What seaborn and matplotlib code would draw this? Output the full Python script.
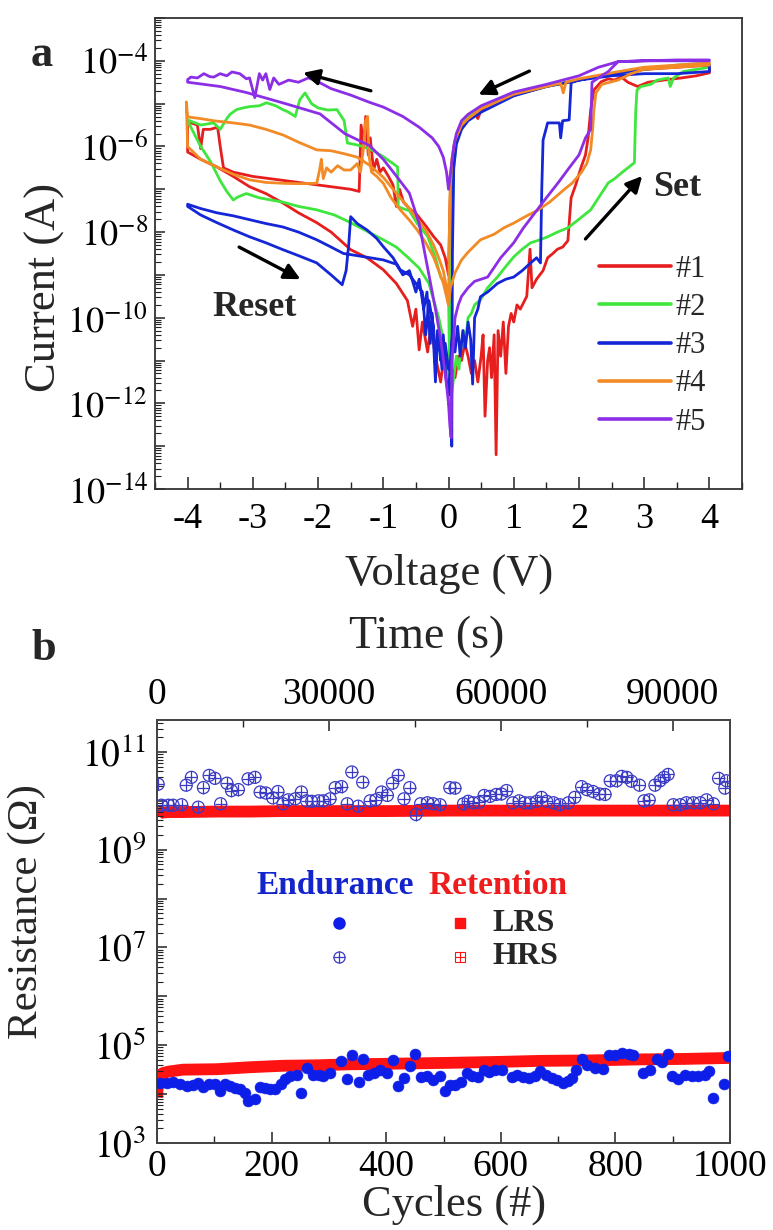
#!/usr/bin/env python3
"""I-V sweeps (a) and endurance/retention (b) of a resistive switching cell."""

import matplotlib
matplotlib.use("Agg")
import matplotlib.pyplot as plt
import matplotlib.ticker as mticker
import numpy as np
import pandas as pd
import seaborn as sns

# ---------------------------------------------------------------- panel a
# each sweep: (voltage V, log10 current A) in sweep order
# HRS 0 -> +4 (set), LRS +4 -> 0, LRS 0 -> -4, reset branch -4 -> 0
sweep_1 = [
    (0.0, -11.8), (0.05, -11.2), (0.1, -11.4), (0.15, -10.9), (0.2, -11.0), (0.25, -10.6),
    (0.3, -10.9), (0.35, -11.3), (0.4, -11.0), (0.45, -11.5), (0.5, -10.9), (0.53, -10.4),
    (0.56, -12.3), (0.6, -11.0), (0.63, -10.7), (0.66, -11.4), (0.7, -10.4), (0.73, -13.2),
    (0.76, -10.3), (0.8, -10.9), (0.84, -10.1), (0.88, -11.3), (0.92, -10.2), (0.96, -9.9),
    (1.0, -10.1), (1.05, -9.7), (1.1, -9.8), (1.2, -9.5), (1.25, -8.4), (1.28, -9.3),
    (1.35, -9.1), (1.45, -8.9), (1.52, -8.6), (1.6, -8.5), (1.67, -8.4), (1.75, -8.35),
    (1.83, -8.2), (1.88, -7.2), (1.95, -6.9), (2.03, -6.5), (2.1, -6.2), (2.14, -5.8),
    (2.18, -5.15), (2.23, -4.68), (2.34, -4.49), (2.45, -4.42), (2.54, -4.45), (2.65, -4.38),
    (2.75, -4.5), (2.9, -4.6), (3.06, -4.5), (3.3, -4.45), (3.57, -4.4), (3.8, -4.35),
    (4.0, -4.28),
    (4.0, -4.1), (3.5, -4.15), (3.0, -4.2), (2.5, -4.3), (2.0, -4.45), (1.5, -4.6),
    (1.0, -4.8), (0.7, -4.95), (0.5, -5.15), (0.45, -5.35), (0.4, -5.2), (0.3, -5.35),
    (0.2, -5.55), (0.1, -5.9), (0.05, -6.4), (0.02, -7.5), (0.0, -9.0),
    (-0.05, -8.6), (-0.12, -8.3), (-0.23, -8.1), (-0.35, -7.85), (-0.48, -7.6), (-0.6, -7.45),
    (-0.69, -7.3), (-0.75, -7.0), (-0.8, -7.4), (-0.85, -6.9), (-0.92, -6.7), (-1.0, -6.5),
    (-1.05, -6.6), (-1.1, -6.3), (-1.15, -6.55), (-1.2, -5.8), (-1.23, -6.2), (-1.27, -5.3),
    (-1.3, -6.0), (-1.34, -5.5), (-1.37, -7.05), (-1.5, -7.0), (-2.0, -6.9), (-2.5, -6.8),
    (-3.0, -6.7), (-3.3, -6.6), (-3.45, -6.5), (-3.5, -6.0), (-3.54, -5.55), (-3.65, -5.6),
    (-3.76, -5.6), (-3.8, -6.05), (-3.85, -5.5), (-3.95, -5.45), (-4.0, -5.45),
    (-4.0, -6.13), (-3.8, -6.3), (-3.55, -6.48), (-3.3, -6.7), (-3.05, -6.94), (-2.8, -7.1),
    (-2.54, -7.32), (-2.3, -7.55), (-2.02, -7.78), (-1.8, -8.0), (-1.5, -8.41), (-1.25, -8.6),
    (-1.0, -8.88), (-0.8, -9.2), (-0.63, -9.6), (-0.55, -10.2), (-0.5, -9.8), (-0.45, -10.75),
    (-0.4, -10.1), (-0.32, -10.8), (-0.27, -10.2), (-0.2, -10.9), (-0.12, -11.5), (-0.07, -10.9),
    (-0.02, -11.6), (0.0, -11.8),
]
sweep_2 = [
    (0.0, -11.6), (0.03, -12.0), (0.08, -11.4), (0.12, -10.9), (0.16, -11.2), (0.19, -10.7),
    (0.23, -10.3), (0.26, -10.6), (0.3, -10.0), (0.35, -9.9), (0.4, -9.7), (0.49, -9.58),
    (0.6, -9.3), (0.75, -9.05), (0.88, -8.8), (1.0, -8.58), (1.13, -8.4), (1.26, -8.25),
    (1.4, -8.18), (1.52, -8.11), (1.67, -8.0), (1.83, -7.9), (2.0, -7.7), (2.18, -7.48),
    (2.3, -7.2), (2.45, -6.85), (2.55, -6.75), (2.65, -6.62), (2.75, -6.5), (2.85, -6.38),
    (2.87, -5.2), (2.89, -4.68), (2.95, -4.6), (3.1, -4.55), (3.2, -4.45), (3.37, -4.4),
    (3.4, -4.6), (3.45, -4.4), (3.6, -4.25), (3.8, -4.2), (4.0, -4.15),
    (4.0, -4.05), (3.5, -4.1), (3.0, -4.2), (2.5, -4.3), (2.0, -4.45), (1.5, -4.6),
    (1.0, -4.8), (0.5, -5.1), (0.3, -5.3), (0.2, -5.5), (0.12, -5.9), (0.08, -6.5),
    (0.05, -8.0), (0.03, -12.5), (0.01, -10.5), (0.0, -9.4),
    (-0.05, -9.2), (-0.12, -9.05), (-0.2, -8.6), (-0.32, -8.1), (-0.4, -7.95), (-0.48, -7.8),
    (-0.6, -7.5), (-0.7, -7.45), (-0.77, -7.41), (-0.78, -6.48), (-0.85, -6.4), (-1.0, -6.24),
    (-1.15, -6.1), (-1.31, -6.0), (-1.45, -5.95), (-1.55, -5.92), (-1.6, -5.4), (-1.71, -5.14),
    (-1.85, -5.15), (-2.0, -5.1), (-2.1, -5.0), (-2.2, -4.75), (-2.28, -4.91), (-2.35, -5.3),
    (-2.45, -5.2), (-2.54, -5.14), (-2.65, -5.05), (-2.79, -4.98), (-2.9, -5.05), (-3.05, -5.07),
    (-3.15, -5.1), (-3.25, -5.14), (-3.35, -5.25), (-3.4, -5.35), (-3.5, -5.6), (-3.6, -5.45),
    (-3.8, -5.5), (-4.0, -5.38),
    (-4.0, -5.4), (-3.9, -5.7), (-3.8, -6.0), (-3.65, -6.35), (-3.5, -6.8), (-3.4, -7.05),
    (-3.3, -7.25), (-3.23, -7.18), (-3.1, -7.1), (-2.9, -7.2), (-2.54, -7.3), (-2.3, -7.4),
    (-2.02, -7.48), (-1.75, -7.6), (-1.5, -7.78), (-1.25, -7.98), (-1.0, -8.18), (-0.8, -8.35),
    (-0.63, -8.58), (-0.45, -8.84), (-0.3, -9.2), (-0.23, -9.58), (-0.15, -10.0), (-0.08, -10.5),
    (0.0, -11.6),
]
sweep_3 = [
    (0.0, -11.8), (0.03, -11.0), (0.06, -10.4), (0.1, -10.8), (0.14, -10.2), (0.18, -10.9),
    (0.22, -10.3), (0.26, -10.7), (0.3, -10.1), (0.34, -10.5), (0.37, -11.55), (0.4, -10.0),
    (0.45, -9.8), (0.49, -9.51), (0.6, -9.4), (0.75, -9.2), (0.88, -9.1), (1.0, -9.05),
    (1.13, -8.9), (1.26, -8.72), (1.35, -8.6), (1.41, -8.72), (1.43, -7.0), (1.45, -5.85),
    (1.52, -5.45), (1.6, -5.45), (1.7, -5.45), (1.72, -5.8), (1.75, -5.4), (1.85, -5.38),
    (1.88, -4.51), (2.0, -4.45), (2.5, -4.35), (3.0, -4.3), (3.5, -4.3), (4.0, -4.25),
    (4.0, -4.1), (3.5, -4.12), (3.0, -4.2), (2.5, -4.3), (2.0, -4.45), (1.5, -4.6),
    (1.0, -4.82), (0.5, -5.2), (0.3, -5.4), (0.2, -5.6), (0.12, -5.95), (0.08, -6.5),
    (0.06, -8.5), (0.05, -13.0), (0.04, -11.0), (0.0, -11.2),
    (-0.05, -10.6), (-0.1, -11.2), (-0.15, -10.3), (-0.2, -11.1), (-0.23, -10.2), (-0.3, -9.6),
    (-0.35, -10.4), (-0.4, -9.4), (-0.5, -9.2), (-0.6, -9.0), (-0.74, -8.88), (-0.85, -8.6),
    (-1.0, -8.34), (-1.1, -8.15), (-1.25, -7.95), (-1.4, -7.8), (-1.5, -7.64), (-1.53, -8.3),
    (-1.57, -8.9), (-1.63, -9.23), (-1.8, -9.0), (-2.02, -8.72), (-2.3, -8.55), (-2.54, -8.41),
    (-2.8, -8.25), (-3.05, -8.11), (-3.3, -7.95), (-3.55, -7.78), (-3.8, -7.6), (-4.0, -7.4),
    (-4.0, -7.35), (-3.8, -7.45), (-3.55, -7.55), (-3.3, -7.62), (-3.05, -7.71), (-2.8, -7.8),
    (-2.54, -7.88), (-2.3, -8.0), (-2.02, -8.18), (-1.8, -8.35), (-1.61, -8.5), (-1.4, -8.55),
    (-1.2, -8.6), (-1.0, -8.65), (-0.8, -8.75), (-0.7, -9.0), (-0.6, -8.9), (-0.5, -9.4),
    (-0.45, -9.1), (-0.38, -9.8), (-0.33, -9.4), (-0.28, -10.6), (-0.25, -9.9), (-0.2, -11.5),
    (-0.17, -10.3), (-0.12, -11.0), (-0.08, -10.4), (-0.04, -11.4), (0.0, -11.8),
]
sweep_4 = [
    (0.0, -9.7), (0.03, -9.3), (0.05, -9.2), (0.1, -8.95), (0.2, -8.65), (0.3, -8.47),
    (0.49, -8.18), (0.7, -8.05), (0.85, -7.9), (1.0, -7.79), (1.2, -7.62), (1.37, -7.49),
    (1.55, -7.3), (1.77, -7.01), (1.9, -6.85), (2.03, -6.62), (2.12, -6.4), (2.18, -6.08),
    (2.21, -5.6), (2.23, -5.15), (2.26, -4.75), (2.35, -4.55), (2.6, -4.45), (2.8, -4.3),
    (3.0, -4.2), (3.5, -4.15), (4.0, -4.1),
    (4.0, -4.05), (3.5, -4.1), (3.0, -4.15), (2.5, -4.28), (2.0, -4.42), (1.8, -4.5),
    (1.76, -4.75), (1.72, -4.52), (1.5, -4.6), (1.0, -4.78), (0.5, -5.12), (0.3, -5.35),
    (0.2, -5.5), (0.1, -5.85), (0.05, -6.3), (0.02, -7.2), (0.0, -9.7),
    (-0.03, -9.3), (-0.08, -8.9), (-0.15, -8.6), (-0.23, -8.3), (-0.35, -7.95), (-0.48, -7.7),
    (-0.6, -7.45), (-0.74, -7.2), (-0.85, -7.0), (-1.0, -6.72), (-1.2, -6.45), (-1.4, -6.25),
    (-1.6, -6.17), (-1.8, -6.1), (-2.02, -6.08), (-2.3, -5.9), (-2.54, -5.73), (-2.8, -5.6),
    (-3.05, -5.5), (-3.3, -5.45), (-3.6, -5.4), (-3.8, -5.35), (-4.0, -5.31), (-4.02, -4.96),
    (-4.0, -6.0), (-3.8, -6.3), (-3.55, -6.48), (-3.3, -6.65), (-3.05, -6.78), (-2.8, -6.84),
    (-2.54, -6.86), (-2.3, -6.87), (-2.02, -6.86), (-1.97, -6.5), (-1.95, -6.3), (-1.92, -6.75),
    (-1.87, -6.5), (-1.8, -6.6), (-1.7, -6.45), (-1.6, -6.55), (-1.5, -6.55), (-1.4, -6.4),
    (-1.35, -6.6), (-1.3, -6.0), (-1.27, -5.4), (-1.24, -5.3), (-1.22, -6.2), (-1.18, -6.6),
    (-1.1, -6.7), (-1.0, -6.86), (-0.88, -7.2), (-0.74, -7.48), (-0.6, -7.72), (-0.48, -7.95),
    (-0.35, -8.25), (-0.23, -8.58), (-0.15, -8.9), (-0.08, -9.19), (0.0, -9.7),
]
sweep_5 = [
    (0.0, -12.0), (0.02, -12.5), (0.04, -12.8), (0.05, -11.0), (0.08, -10.5), (0.1, -10.0),
    (0.15, -9.7), (0.2, -9.5), (0.3, -9.3), (0.4, -9.15), (0.6, -9.05), (0.8, -8.6),
    (1.0, -8.25), (1.15, -7.9), (1.3, -7.6), (1.5, -7.2), (1.68, -6.85), (1.85, -6.5),
    (2.0, -6.2), (2.1, -5.8), (2.18, -5.6), (2.2, -4.5), (2.3, -4.4), (2.45, -4.25),
    (2.6, -4.02), (3.0, -4.0), (3.5, -4.0), (4.0, -4.0),
    (4.0, -3.98), (3.5, -3.98), (3.0, -4.0), (2.6, -4.02), (2.3, -4.15), (2.0, -4.35),
    (1.5, -4.55), (1.0, -4.73), (0.5, -5.05), (0.3, -5.25), (0.2, -5.4), (0.12, -5.7),
    (0.08, -6.0), (0.04, -6.5), (0.0, -7.0),
    (-0.03, -6.6), (-0.08, -6.25), (-0.15, -6.0), (-0.25, -5.8), (-0.45, -5.55), (-0.7, -5.3),
    (-1.0, -5.08), (-1.21, -4.97), (-1.5, -4.8), (-1.8, -4.65), (-2.05, -4.45), (-2.15, -4.4),
    (-2.3, -4.5), (-2.45, -4.45), (-2.6, -4.55), (-2.68, -4.4), (-2.74, -4.67), (-2.8, -4.3),
    (-2.85, -4.45), (-2.9, -4.3), (-2.97, -4.86), (-3.05, -4.4), (-3.1, -4.42), (-3.2, -4.3),
    (-3.32, -4.26), (-3.4, -4.35), (-3.5, -4.3), (-3.6, -4.38), (-3.66, -4.37), (-3.75, -4.3),
    (-3.85, -4.4), (-3.95, -4.38), (-4.0, -4.44),
    (-4.0, -4.5), (-3.5, -4.6), (-3.1, -4.74), (-2.5, -5.0), (-1.97, -5.24), (-1.59, -5.7),
    (-1.21, -5.98), (-1.0, -6.3), (-0.83, -6.63), (-0.6, -7.09), (-0.45, -7.8), (-0.3, -9.0),
    (-0.2, -9.8), (-0.12, -10.5), (-0.05, -11.3), (0.0, -12.0),
]
sweep_names = ["#1", "#2", "#3", "#4", "#5"]
sweep_colors = ["#e61e1e", "#3ee63e", "#1426d6", "#f28a26", "#8c2ee6"]

# ---------------------------------------------------------------- panel b
# endurance, read off every plotted cycle (log10 resistance, ohm)
hrs_cycles = [2, 8, 20, 28, 43, 51, 60, 72, 81, 91, 101, 111, 122, 130, 142, 159, 171,
              180, 190, 202, 211, 220, 229, 241, 252, 261, 270, 282, 290, 302, 311, 322,
              332, 340, 351, 359, 372, 382, 392, 402, 411, 421, 431, 441, 452, 460, 472,
              482, 494, 511, 520, 535, 543, 552, 562, 571, 581, 592, 601, 610, 621, 632,
              642, 651, 663, 671, 680, 692, 703, 718, 729, 741, 750, 761, 772, 782, 791,
              802, 811, 820, 828, 842, 850, 859, 869, 878, 885, 892, 901, 913, 924, 936,
              948, 959, 971, 980, 991, 994]
hrs_endurance = [10.34, 9.91, 9.91, 9.91, 9.92, 10.32, 10.48, 9.87, 10.27, 10.52, 10.46,
                 9.94, 10.36, 10.21, 10.23, 10.45, 10.48, 10.18, 10.16, 10.06, 10.19, 9.94,
                 10.02, 10.04, 10.18, 10.00, 9.99, 10.00, 10.00, 10.04, 10.27, 10.29, 9.94,
                 10.59, 9.89, 10.38, 10.00, 10.02, 10.18, 10.11, 10.36, 10.52, 10.04, 10.27,
                 9.72, 9.94, 9.96, 9.94, 9.92, 10.27, 10.26, 9.94, 9.99, 9.96, 9.97, 10.11,
                 10.09, 10.13, 10.14, 10.21, 9.96, 10.00, 9.96, 9.96, 9.99, 10.07, 9.99,
                 9.96, 9.92, 9.96, 10.07, 10.29, 10.23, 10.19, 10.14, 10.13, 10.41, 10.41,
                 10.50, 10.48, 10.40, 10.32, 10.00, 10.02, 10.32, 10.41, 10.48, 10.54, 9.92,
                 9.92, 9.96, 9.96, 9.96, 10.02, 9.94, 10.46, 10.26, 10.41]
lrs_cycles = [5, 17, 28, 40, 52, 63, 72, 81, 91, 101, 110, 119, 127, 136, 145, 154, 159,
              171, 180, 188, 197, 206, 216, 223, 232, 244, 251, 261, 273, 282, 290, 302,
              321, 331, 340, 352, 360, 369, 379, 389, 401, 412, 421, 431, 441, 450, 460,
              471, 481, 494, 503, 511, 520, 530, 541, 549, 561, 570, 580, 590, 602, 619,
              629, 639, 650, 660, 669, 679, 689, 698, 708, 718, 724, 731, 741, 750, 765,
              779, 788, 800, 811, 823, 831, 849, 861, 872, 881, 891, 898, 910, 922, 933,
              945, 957, 964, 971, 990, 997]
lrs_endurance = [4.22, 4.23, 4.25, 4.20, 4.16, 4.18, 4.22, 4.15, 4.20, 4.21, 4.06, 4.20,
                 4.16, 4.13, 4.10, 4.03, 3.86, 3.89, 4.15, 4.13, 4.10, 4.10, 4.20, 4.30,
                 4.38, 4.40, 4.03, 4.54, 4.40, 4.40, 4.38, 4.44, 4.67, 4.30, 4.79, 4.25,
                 4.71, 4.40, 4.44, 4.50, 4.44, 4.69, 4.16, 4.33, 4.57, 4.83, 4.35, 4.37,
                 4.29, 4.37, 4.06, 4.18, 4.18, 4.25, 4.44, 4.38, 4.35, 4.50, 4.45, 4.50,
                 4.49, 4.35, 4.40, 4.35, 4.33, 4.38, 4.47, 4.40, 4.33, 4.29, 4.23, 4.27,
                 4.33, 4.50, 4.72, 4.60, 4.54, 4.52, 4.79, 4.81, 4.84, 4.83, 4.79, 4.44,
                 4.50, 4.72, 4.65, 4.83, 4.37, 4.30, 4.40, 4.37, 4.37, 4.40, 4.47, 3.93,
                 4.20, 4.77]
# retention, time in s (log10 resistance, ohm)
ret_time = [0, 100, 300, 600, 1000, 2000, 4500, 10500, 16200, 22000, 28000, 33700,
            40000, 51100, 60000, 66800, 76000, 84300, 92000, 100000]
ret_lrs = [3.93, 4.10, 4.30, 4.38, 4.43, 4.46, 4.50, 4.51, 4.55, 4.58, 4.59, 4.61,
           4.62, 4.64, 4.66, 4.68, 4.69, 4.71, 4.72, 4.74]
ret_hrs = [9.70, 9.72, 9.74, 9.75, 9.76, 9.77, 9.77, 9.78, 9.78, 9.79, 9.79, 9.79,
           9.79, 9.80, 9.80, 9.80, 9.80, 9.80, 9.80, 9.80]

W, H = 773, 1230
BLUE = "#0c1ee8"
HRS_BLUE = "#3a3ac4"
RED = "#ff1212"


def fx(px):
    return px / W


def fy(py):
    return 1 - py / H


def log_label(keep):
    def fmt(v, pos):
        e = int(round(np.log10(v)))
        return f"$10^{{{e}}}$" if e % 2 == keep else ""
    return mticker.FuncFormatter(fmt)


def style_log_y(ax, keep):
    ax.yaxis.set_major_locator(mticker.LogLocator(base=10, subs=(1.0,), numticks=30))
    ax.yaxis.set_minor_locator(mticker.LogLocator(base=10, subs=np.arange(2, 10), numticks=30))
    ax.yaxis.set_major_formatter(log_label(keep))
    ax.yaxis.set_minor_formatter(mticker.NullFormatter())


sns.set_theme(style="ticks")
plt.rcParams["font.family"] = ["Liberation Serif", "DejaVu Serif"]
plt.rcParams["mathtext.fontset"] = "stix"
plt.rcParams["axes.unicode_minus"] = False

fig = plt.figure(figsize=(W / 100, H / 100), dpi=100)

# ---------------------------------------------------------------- a
rows = []
for name, sweep in zip(sweep_names, [sweep_1, sweep_2, sweep_3, sweep_4, sweep_5]):
    for v, li in sweep:
        rows.append({"V": v, "I": 10.0 ** li, "sweep": name})
iv = pd.DataFrame(rows)

ax_a = fig.add_axes([fx(155), fy(489), fx(587), 471 / H])
sns.lineplot(data=iv, x="V", y="I", hue="sweep", hue_order=sweep_names,
             palette=dict(zip(sweep_names, sweep_colors)), estimator=None, sort=False,
             linewidth=2.0, ax=ax_a)
ax_a.set_yscale("log")
ax_a.set_xlim(-4.5, 4.5)
ax_a.set_ylim(1e-14, 1e-3)
ax_a.set_xlabel("")
ax_a.set_ylabel("")
ax_a.xaxis.set_major_locator(mticker.MultipleLocator(1))
ax_a.xaxis.set_minor_locator(mticker.MultipleLocator(0.5))
style_log_y(ax_a, 0)
ax_a.tick_params(which="both", direction="in", top=False, right=False, labelsize=26,
                 colors="#222222", labelcolor="black")
ax_a.tick_params(axis="x", which="major", length=9, width=1.1, pad=10)
ax_a.tick_params(axis="x", which="minor", length=5, width=1.0)
ax_a.tick_params(axis="y", which="major", length=7, width=1.1, pad=5)
ax_a.tick_params(axis="y", which="minor", length=4, width=0.8)
for sp in ax_a.spines.values():
    sp.set_color("#333333")
    sp.set_linewidth(1.3)

handles, labels = ax_a.get_legend_handles_labels()
leg = ax_a.legend(handles, labels, frameon=False, loc="upper left",
                  bbox_to_anchor=(0.756, 0.497), fontsize=22, handlelength=2.35,
                  handletextpad=0.15, labelspacing=0.3, borderpad=0, borderaxespad=0)
for ln in leg.get_lines():
    ln.set_linewidth(2.6)

arrow = dict(arrowstyle="-|>", color="black", lw=2.4, mutation_scale=24, shrinkA=0, shrinkB=0)
ax_a.annotate("", xy=(-2.23, 10 ** -4.28), xytext=(-1.19, 10 ** -4.70), arrowprops=arrow)
ax_a.annotate("", xy=(0.46, 10 ** -4.79), xytext=(1.24, 10 ** -4.24), arrowprops=arrow)
ax_a.annotate("", xy=(2.97, 10 ** -6.69), xytext=(2.10, 10 ** -8.16), arrowprops=arrow)
ax_a.annotate("", xy=(-2.27, 10 ** -9.10), xytext=(-3.21, 10 ** -8.35), arrowprops=arrow)
ax_a.text(3.51, 10 ** -6.97, "Set", fontsize=26, fontweight="bold", ha="center", va="center")
ax_a.text(-2.98, 10 ** -9.77, "Reset", fontsize=26, fontweight="bold", ha="center", va="center")

fig.text(fx(42), fy(55), "a", fontsize=32, fontweight="bold", ha="center", va="center")
fig.text(fx(449), fy(574), "Voltage (V)", fontsize=32, ha="center", va="center")
fig.text(fx(45), fy(287), "Current (A)", fontsize=32, rotation=90, ha="center", va="center")

# ---------------------------------------------------------------- b
ax_b = fig.add_axes([fx(157), fy(1143), fx(573), 423 / H])
ax_t = ax_b.twiny()
ax_t.set_zorder(ax_b.get_zorder() - 1)
ax_b.patch.set_visible(False)

sns.lineplot(x=ret_time, y=10.0 ** np.array(ret_lrs), color=RED, linewidth=8.5,
             estimator=None, sort=False, ax=ax_t, solid_capstyle="butt")
sns.lineplot(x=ret_time, y=10.0 ** np.array(ret_hrs), color=RED, linewidth=8.5,
             estimator=None, sort=False, ax=ax_t, solid_capstyle="butt")

sns.scatterplot(x=lrs_cycles, y=10.0 ** np.array(lrs_endurance), color=BLUE, s=62,
                edgecolor=BLUE, linewidth=0.4, ax=ax_b, zorder=3)
hrs_y = 10.0 ** np.array(hrs_endurance)
sns.scatterplot(x=hrs_cycles, y=hrs_y, marker="o", facecolor="none", edgecolor=HRS_BLUE,
                s=75, linewidth=0.9, ax=ax_b, zorder=3)
sns.scatterplot(x=hrs_cycles, y=hrs_y, marker="+", color=HRS_BLUE, s=75,
                linewidth=0.9, ax=ax_b, zorder=3)

ax_b.set_yscale("log")
ax_b.set_ylim(1e3, 4.5e11)
ax_b.set_xlim(0, 1000)
ax_t.set_xlim(0, 100000)
style_log_y(ax_b, 1)
ax_b.xaxis.set_major_locator(mticker.MultipleLocator(200))
ax_b.xaxis.set_minor_locator(mticker.MultipleLocator(100))
ax_t.xaxis.set_major_locator(mticker.MultipleLocator(30000))
ax_t.xaxis.set_minor_locator(mticker.MultipleLocator(15000))
for ax in (ax_b, ax_t):
    ax.set_xlabel("")
    ax.set_ylabel("")
    for sp in ax.spines.values():
        sp.set_color("#444444")
        sp.set_linewidth(1.3)
ax_b.tick_params(which="both", direction="in", top=False, right=False, labelsize=27,
                 colors="#222222", labelcolor="black")
ax_b.tick_params(axis="x", which="major", length=8, width=1.1, pad=5)
ax_b.tick_params(axis="x", which="minor", length=5, width=1.0)
ax_b.tick_params(axis="y", which="major", length=7, width=1.1, pad=8)
ax_b.tick_params(axis="y", which="minor", length=4, width=0.8)
ax_t.tick_params(which="both", direction="in", top=True, bottom=False, left=False,
                 right=False, labelsize=27, colors="#222222", labelcolor="black")
ax_t.tick_params(axis="x", which="major", length=8, width=1.1, pad=6)
ax_t.tick_params(axis="x", which="minor", length=5, width=1.0)

# legend of panel b, drawn by hand as in the figure
tr = ax_b.transAxes
ax_b.text(0.311, 0.608, "Endurance", transform=tr, color="#1424cc", fontsize=24,
          fontweight="bold", ha="center", va="center")
ax_b.text(0.595, 0.608, "Retention", transform=tr, color="#ee1c1c", fontsize=24,
          fontweight="bold", ha="center", va="center")
ax_b.plot([0.318], [0.520], transform=tr, marker="o", ms=8, color=BLUE, ls="none")
ax_b.plot([0.318], [0.440], transform=tr, marker="o", ms=8, mfc="none", mec=HRS_BLUE,
          mew=0.9, ls="none")
ax_b.plot([0.318], [0.440], transform=tr, marker="+", ms=8, color=HRS_BLUE, mew=0.9, ls="none")
ax_b.plot([0.529], [0.520], transform=tr, marker="s", ms=7, color=RED, ls="none")
ax_b.plot([0.529], [0.440], transform=tr, marker="s", ms=7, mfc="none", mec=RED,
          mew=0.8, ls="none")
ax_b.plot([0.529], [0.440], transform=tr, marker="+", ms=7, color=RED, mew=0.8, ls="none")
ax_b.text(0.586, 0.520, "LRS", transform=tr, fontsize=23, fontweight="bold",
          ha="left", va="center")
ax_b.text(0.586, 0.440, "HRS", transform=tr, fontsize=23, fontweight="bold",
          ha="left", va="center")

fig.text(fx(44), fy(649), "b", fontsize=32, fontweight="bold", ha="center", va="center")
fig.text(fx(427), fy(637), "Time (s)", fontsize=33, ha="center", va="center")
fig.text(fx(454), fy(1205), "Cycles (#)", fontsize=32, ha="center", va="center")
fig.text(fx(27), fy(912), "Resistance (Ω)", fontsize=31, rotation=90, ha="center", va="center")

fig.savefig("out.png", dpi=100)
